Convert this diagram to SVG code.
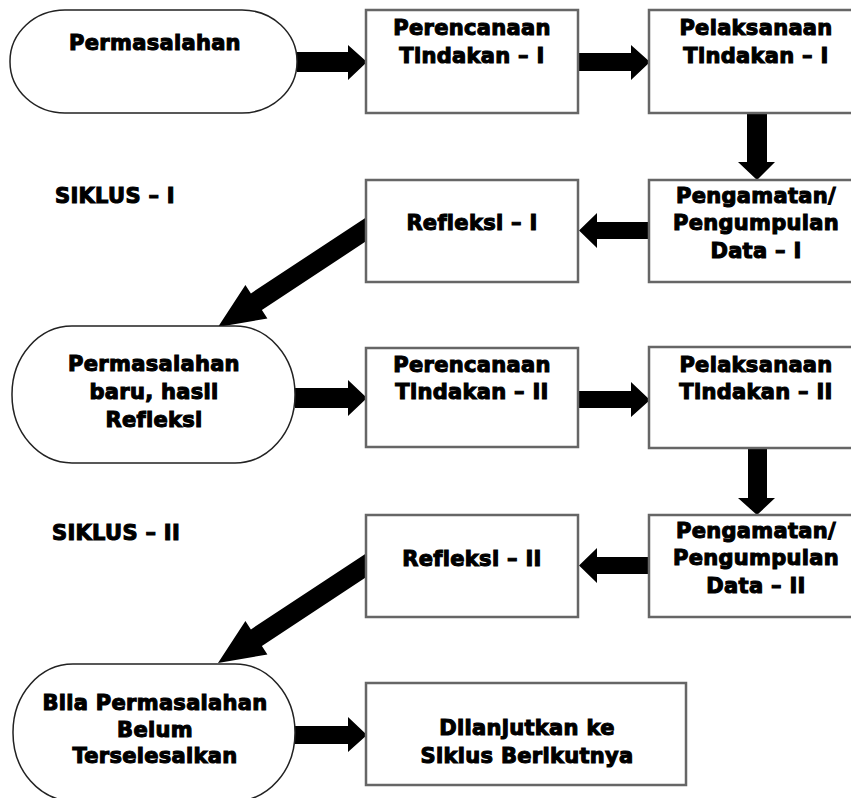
<svg xmlns="http://www.w3.org/2000/svg" width="851" height="798" viewBox="0 0 851 798">
<style>
.box{fill:#fff;stroke:#666;stroke-width:2.5}
.term{fill:#fff;stroke:#222;stroke-width:1.5}
.t{font-family:"DejaVu Sans",Verdana,sans-serif;font-weight:bold;font-size:21px;letter-spacing:0.3px;fill:#000;stroke:#000;stroke-width:1.1px;text-anchor:middle}
.l{font-family:"DejaVu Sans",Verdana,sans-serif;font-weight:bold;font-size:21px;letter-spacing:0.3px;fill:#000;stroke:#000;stroke-width:1.1px}
.ar{fill:#000;stroke:none}
</style>
<rect width="851" height="798" fill="#fff"/>
<g id="connectors">
<polygon class="ar" points="297,52 348,52 348,45 367,62 348,80 348,72 297,72"/>
<polygon class="ar" points="578,53 631,53 631,45 650,62 631,80 631,71 578,71"/>
<polygon class="ar" points="747,113 767,113 767,162 775,162 757,180 738,162 747,162"/>
<polygon class="ar" points="649,222 597,222 597,213 579,230.5 597,248 597,239 649,239"/>
<polygon class="ar" points="366,217.4 250.9,293.4 245.4,285 218,327 267.4,318.4 261.9,310 366,241.3"/>
<polygon class="ar" points="295,388 348,388 348,380 367,398 348,416 348,408 295,408"/>
<polygon class="ar" points="578,391 631,391 631,382 650,400 631,417 631,408 578,408"/>
<polygon class="ar" points="748,448 767,448 767,498 775,498 757,515 738,498 748,498"/>
<polygon class="ar" points="649,557 597,557 597,548 579,565.5 597,583 597,574 649,574"/>
<polygon class="ar" points="366,553.4 250.9,629.4 245.4,621 218,663 267.4,654.4 261.9,646 366,577.3"/>
<polygon class="ar" points="295,726 348,726 348,717 367,735 348,752 348,744 295,744"/>
</g>
<g id="n-permasalahan">
<rect class="term" x="10" y="10" width="287" height="103" rx="55" ry="51"/>
<text class="t" x="155" y="50">Permasalahan</text>
</g>
<g id="n-perencanaan1">
<rect class="box" x="366" y="10" width="212" height="103"/>
<text class="t" x="472" y="35">Perencanaan</text>
<text class="t" x="472" y="63">Tindakan – I</text>
</g>
<g id="n-pelaksanaan1">
<rect class="box" x="649" y="10" width="214" height="103"/>
<text class="t" x="756" y="35">Pelaksanaan</text>
<text class="t" x="756" y="63">Tindakan – I</text>
</g>
<g id="n-pengamatan1">
<rect class="box" x="649" y="180" width="214" height="102"/>
<text class="t" x="756" y="203">Pengamatan/</text>
<text class="t" x="756" y="230">Pengumpulan</text>
<text class="t" x="756" y="258">Data – I</text>
</g>
<g id="n-refleksi1">
<rect class="box" x="366" y="180" width="212" height="102"/>
<text class="t" x="472" y="230">Refleksi – I</text>
</g>
<g id="label-siklus1">
<text class="l" x="55" y="203">SIKLUS – I</text>
</g>
<g id="n-permasalahan2">
<rect class="term" x="12" y="326" width="283" height="137" rx="60" ry="68"/>
<text class="t" x="154" y="371">Permasalahan</text>
<text class="t" x="154" y="399">baru, hasil</text>
<text class="t" x="154" y="427">Refleksi</text>
</g>
<g id="n-perencanaan2">
<rect class="box" x="366" y="348" width="212" height="99"/>
<text class="t" x="472" y="372">Perencanaan</text>
<text class="t" x="472" y="399">Tindakan – II</text>
</g>
<g id="n-pelaksanaan2">
<rect class="box" x="649" y="347" width="214" height="101"/>
<text class="t" x="756" y="372">Pelaksanaan</text>
<text class="t" x="756" y="399">Tindakan – II</text>
</g>
<g id="label-siklus2">
<text class="l" x="52" y="540">SIKLUS – II</text>
</g>
<g id="n-refleksi2">
<rect class="box" x="366" y="515" width="212" height="102"/>
<text class="t" x="472" y="566">Refleksi – II</text>
</g>
<g id="n-pengamatan2">
<rect class="box" x="649" y="515" width="214" height="102"/>
<text class="t" x="756" y="538">Pengamatan/</text>
<text class="t" x="756" y="565">Pengumpulan</text>
<text class="t" x="756" y="593">Data – II</text>
</g>
<g id="n-bila">
<rect class="term" x="13" y="664" width="282" height="137" rx="60" ry="68"/>
<text class="t" x="155" y="710">Bila Permasalahan</text>
<text class="t" x="155" y="737">Belum</text>
<text class="t" x="155" y="763">Terselesaikan</text>
</g>
<g id="n-dilanjutkan">
<rect class="box" x="366" y="683" width="320" height="102"/>
<text class="t" x="527" y="735">Dilanjutkan ke</text>
<text class="t" x="527" y="763">Siklus Berikutnya</text>
</g>
</svg>
